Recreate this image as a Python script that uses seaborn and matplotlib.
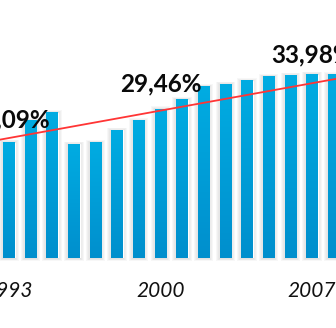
import numpy as np
import pandas as pd
import matplotlib
matplotlib.use("Agg")
import matplotlib.pyplot as plt
from matplotlib.patches import Rectangle
from matplotlib.colors import LinearSegmentedColormap
import seaborn as sns

# Yearly share (%)
years = list(range(1993, 2009))
shares = [25.09, 27.96, 28.97, 24.86, 25.05, 26.69, 27.92, 29.46,
          30.67, 32.37, 32.67, 33.15, 33.71, 33.88, 33.98, 33.93]
labeled_years = [1993, 2000, 2007]
tick_years = [1993, 2000, 2007]
# Linear trend, value at the first and last year
trend_years = [1993, 2008]
trend_values = [25.68, 33.36]

sns.set_style("white")
plt.rcParams["font.family"] = ["Lato", "DejaVu Sans"]

W, H = 336, 328
fig = plt.figure(figsize=(W / 100, H / 100), dpi=100)
base_px = 70
ax = fig.add_axes([0, base_px / H, 1, (H - base_px) / H])

df = pd.DataFrame({"year": [str(y) for y in years], "share": shares})
sns.barplot(data=df, x="year", y="share", color="#00a0da", width=0.53,
            saturation=1, ax=ax, zorder=3)

step_px = 21.66
ypx = 7.65
xmin = -8.8 / step_px
xmax = xmin + W / step_px
ymin = 10
ymax = ymin + (H - base_px) / ypx

dx = 1 / step_px
dy = 1 / ypx
grad_cmap = LinearSegmentedColormap.from_list("bar", ["#00ace2", "#008fcd"])
grad = np.linspace(0, 1, 128).reshape(-1, 1)

for p in list(ax.patches):
    x0, w, top = p.get_x(), p.get_width(), p.get_height()
    # soft grey glow around each bar
    for k in range(1, 5):
        ax.add_patch(Rectangle((x0 - k * dx, ymin - k * dy * 0.8), w + 2 * k * dx,
                               top - ymin + k * dy * 1.5,
                               color="#7a7a7a", alpha=0.06, lw=0, zorder=1,
                               clip_on=False))
    # vertical gradient fill
    ax.imshow(grad, cmap=grad_cmap, extent=(x0, x0 + w, ymin, top),
              aspect="auto", origin="upper", zorder=4, interpolation="bilinear")

# trend line across the whole width
pos = [years.index(y) for y in trend_years]
coef = np.polyfit(pos, trend_values, 1)
xs = np.array([xmin - 1, xmax + 1])
ax.plot(xs, np.polyval(coef, xs), color="#ff3535", lw=1.3, zorder=6)

# value labels
offsets_px = [15, 17.5, 12]
for yr, off in zip(labeled_years, offsets_px):
    i = years.index(yr)
    v = shares[i]
    ax.annotate(f"{v:.2f}".replace(".", ",") + "%", xy=(i, v),
                xytext=(0, off * 0.72), textcoords="offset points",
                ha="center", va="baseline", fontsize=17.5, fontweight="bold",
                color="#0a0a0a", zorder=7, annotation_clip=False)

ax.set_xlim(xmin, xmax)
ax.set_ylim(ymin, ymax)
ax.set_xticks([years.index(y) for y in tick_years])
ax.set_xticklabels([str(y) for y in tick_years], fontsize=15, fontstyle="italic",
                   color="#111111")
ax.tick_params(axis="x", length=0, pad=16.5)
ax.set_yticks([])
ax.set_xlabel("")
ax.set_ylabel("")
for s in ax.spines.values():
    s.set_visible(False)

fig.savefig("out.png", dpi=100)
